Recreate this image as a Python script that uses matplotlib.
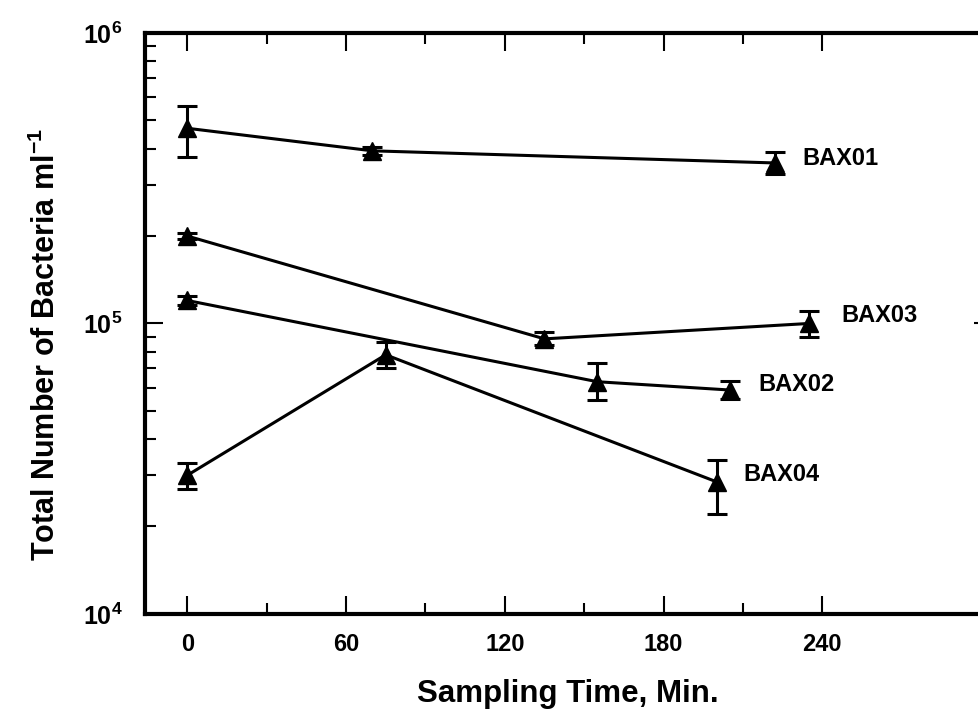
import matplotlib.pyplot as plt
import numpy as np

plt.rcParams['font.family'] = 'Liberation Sans'
plt.rcParams['font.weight'] = 'bold'
plt.rcParams['mathtext.fontset'] = 'custom'
plt.rcParams['mathtext.rm'] = 'Liberation Sans:bold'
plt.rcParams['mathtext.bf'] = 'Liberation Sans:bold'

# sampling time (min), bacteria per ml, error bar limits
names = ['BAX01', 'BAX03', 'BAX02', 'BAX04']
times = [[0, 70, 222], [0, 135, 235], [0, 155, 205], [0, 75, 200]]
counts = [[4.7e5, 3.93e5, 3.57e5],
          [2.0e5, 8.85e4, 1.0e5],
          [1.2e5, 6.3e4, 5.9e4],
          [3.0e4, 7.8e4, 2.85e4]]
lows = [[3.74e5, 3.8e5, 3.27e5],
        [1.95e5, 8.4e4, 0.9e5],
        [1.16e5, 5.45e4, 5.5e4],
        [2.7e4, 7.0e4, 2.2e4]]
highs = [[5.6e5, 4.05e5, 3.9e5],
         [2.05e5, 9.35e4, 1.1e5],
         [1.24e5, 7.3e4, 6.35e4],
         [3.3e4, 8.6e4, 3.4e4]]
label_offsets = [(28, 4), (32, 8), (29, 6), (27, 7)]

xticks = [0, 60, 120, 180, 240]
xminor = [30, 90, 150, 210]
yticks = [1e4, 1e5, 1e6]
ytick_labels = ['$10^{4}$', '$10^{5}$', '$10^{6}$']

fig = plt.figure(figsize=(9.79, 7.18), dpi=100)
ax = fig.add_axes([0.148, 0.145, 0.865, 0.809])

for name, t, c, lo, hi, off in zip(names, times, counts, lows, highs, label_offsets):
    c = np.array(c)
    yerr = [c - np.array(lo), np.array(hi) - c]
    ax.errorbar(t, c, yerr=yerr, color='black', lw=2.2, marker='^', ms=13,
                capsize=7, capthick=2.2, elinewidth=2.2)
    ax.annotate(name, (t[-1], c[-1]), xytext=off, textcoords='offset pixels',
                ha='left', va='center', fontsize=17, fontweight='bold')

ax.set_yscale('log')
ax.set_ylim(1e4, 1e6)
ax.set_xlim(-16, 304)
ax.set_xticks(xticks)
ax.set_xticks(xminor, minor=True)
ax.set_yticks(yticks)
ax.set_yticklabels(ytick_labels)
ax.tick_params(which='both', direction='in', top=True, right=True, width=1.5)
ax.tick_params(which='major', length=13, labelsize=17, pad=14)
ax.tick_params(which='minor', length=8)
ax.tick_params(axis='y', which='major', labelsize=18, pad=16)
for s in ax.spines.values():
    s.set_linewidth(3)

ax.set_xlabel('Sampling Time, Min.', fontsize=22.5, fontweight='bold', labelpad=16)
ax.set_ylabel('Total Number of Bacteria ml$^{-1}$', fontsize=22, fontweight='bold')
ax.yaxis.set_label_coords(-0.098, 0.463)

fig.savefig('out.png', dpi=100)
